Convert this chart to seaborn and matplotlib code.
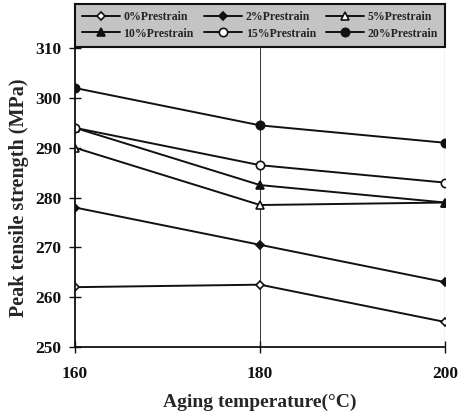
import matplotlib
matplotlib.use("Agg")
import matplotlib.pyplot as plt
import seaborn as sns
import pandas as pd

temperatures = [160, 180, 200]
labels = ["0%Prestrain", "2%Prestrain", "5%Prestrain",
          "10%Prestrain", "15%Prestrain", "20%Prestrain"]
s0 = [262.0, 262.5, 255.0]
s2 = [278.0, 270.5, 263.0]
s5 = [290.0, 278.5, 279.0]
s10 = [294.0, 282.5, 279.0]
s15 = [294.0, 286.5, 283.0]
s20 = [302.0, 294.5, 291.0]
series = [s0, s2, s5, s10, s15, s20]

markers = ["D", "D", "^", "^", "o", "o"]
filled = [False, True, False, True, False, True]
msizes = [4.5, 4.5, 5.5, 5.5, 6, 6]

sns.set_style("ticks")
plt.rcParams["font.family"] = ["Liberation Serif", "DejaVu Serif"]
plt.rcParams["font.weight"] = "bold"

fig = plt.figure(figsize=(4.58, 4.12), dpi=100)
ax = fig.add_axes([0.164, 0.158, 0.808, 0.725])

for lab, vals, m, f, ms in zip(labels, series, markers, filled, msizes):
    df = pd.DataFrame({"T": temperatures, "S": vals})
    sns.lineplot(data=df, x="T", y="S", ax=ax, color="#111111", lw=1.4,
                 marker=m, markersize=ms, markeredgecolor="#111111",
                 markeredgewidth=1.2,
                 markerfacecolor="#111111" if f else "white",
                 label=lab)

ax.set_xlim(160, 200)
ax.set_ylim(250, 310)
ax.set_xticks([160, 180, 200])
ax.set_yticks([250, 260, 270, 280, 290, 300, 310])
ax.axvline(180, color="#333333", lw=0.7, zorder=0)
ax.axvline(200, color="#333333", lw=0.8, zorder=0)

for side in ["top", "right"]:
    ax.spines[side].set_visible(False)
ax.spines["left"].set_linewidth(1.3)
ax.spines["bottom"].set_linewidth(1.3)
ax.spines["left"].set_color("#111111")
ax.spines["bottom"].set_color("#111111")
ax.tick_params(axis="both", direction="inout", length=8, width=1.0,
               labelsize=12.5, pad=6, colors="#111111")
for t in ax.get_xticklabels() + ax.get_yticklabels():
    t.set_fontweight("bold")
ax.tick_params(axis="x", pad=10)

ax.set_xlabel("Aging temperature(\u00b0C)", fontsize=14, fontweight="bold",
              labelpad=8)
ax.set_ylabel("Peak tensile strength (MPa)", fontsize=14.5, fontweight="bold",
              labelpad=4)

h, l = ax.get_legend_handles_labels()
# matplotlib fills legend column-wise; reorder so rows read 0,2,5 / 10,15,20
order = [0, 3, 1, 4, 2, 5]
leg = ax.legend([h[i] for i in order], [l[i] for i in order],
                loc="lower left", bbox_to_anchor=(0.0, 1.005, 1.0, 0.15),
                mode="expand", ncol=3, frameon=True,
                fancybox=False, borderaxespad=0.0, handlelength=3.2,
                handletextpad=0.3, columnspacing=0.6, borderpad=0.6,
                labelspacing=0.4, prop={"weight": "bold", "size": 8.5})
frame = leg.get_frame()
frame.set_facecolor("#c4c4c4")
frame.set_edgecolor("#111111")
frame.set_linewidth(1.5)
frame.set_alpha(1.0)

fig.savefig("out.png", dpi=100)
